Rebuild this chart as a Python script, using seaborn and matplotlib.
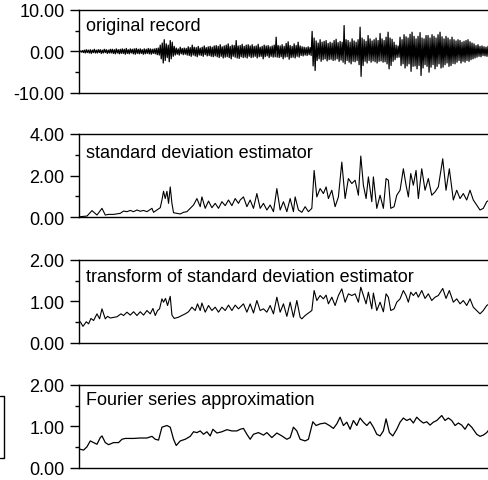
import numpy as np
import pandas as pd
import matplotlib
matplotlib.use("Agg")
import matplotlib.pyplot as plt
import matplotlib.transforms as mtransforms
from matplotlib.lines import Line2D
from matplotlib.ticker import MultipleLocator, FormatStrFormatter
import seaborn as sns

# ---------------- data ----------------
panel_labels = ["original record", "standard deviation estimator",
                "transform of standard deviation estimator",
                "Fourier series approximation"]

# original record: alternating positive peaks and negative troughs
rec_peaks = [0.1, 0.2, 0.3, 0.4, 0.3, 0.4, 0.3, 0.5, 0.3, 0.4, 0.4, 0.3, 0.5, 0.4, 0.3, 0.5,
             0.5, 0.4, 0.6, 0.4, 0.5, 0.6, 0.5, 0.7, 0.4, 0.6, 0.5, 0.6, 0.7, 0.5, 0.6, 0.4,
             0.6, 0.5, 0.7, 0.6, 0.5, 0.6, 0.7, 0.8,
             1.5, 2.0, 2.8, 1.8, 1.5, 2.6, 2.2, 1.2,
             0.8, 0.6, 1.0, 0.7, 0.8, 0.7,
             1.1, 0.9, 1.5, 1.0, 0.9, 1.2, 0.8, 1.0, 1.3, 0.9, 1.1, 1.2, 1.0, 1.3,
             1.4, 1.2, 1.6, 1.1, 1.3, 1.5, 1.8, 1.2, 1.5, 1.4, 2.6, 1.3, 1.4, 1.7, 1.2, 1.5,
             1.6, 1.3,
             1.6, 1.2, 1.3, 1.7, 1.0, 1.2, 1.5, 1.3, 1.4, 1.1, 1.3, 1.5,
             3.4,
             1.4, 1.3, 1.6, 1.2, 1.9, 2.3, 1.4, 1.2, 1.8, 1.4, 2.2, 1.3, 1.1, 1.0, 0.9, 1.1, 0.9,
             4.8, 3.2,
             2.5, 2.0, 2.8, 2.2, 2.4, 2.6, 1.9, 2.2, 2.0, 2.6, 2.9, 2.1, 2.4, 2.2,
             6.2,
             2.8, 2.6, 2.2, 3.0, 2.5, 2.2, 2.8,
             5.8,
             3.2, 2.8, 2.4, 3.8, 3.0, 2.5, 2.8, 3.2, 2.6, 4.3, 3.0,
             2.6, 3.4, 4.6, 3.2, 2.9, 2.2,
             1.5, 1.3,
             3.4, 2.8, 4.0, 3.5, 3.2, 4.1, 4.6, 3.6, 3.0, 3.6, 4.5, 3.2, 3.0, 3.8,
             3.8, 3.2, 4.0, 3.6, 3.2, 4.0, 4.6, 3.5, 3.0, 3.6, 3.2, 2.8, 3.4, 2.8,
             2.5, 2.8, 2.6, 2.2, 2.4, 2.6, 2.8, 2.3, 2.0, 1.8,
             1.4, 1.6, 1.2, 1.3, 1.1, 1.0, 1.2]
rec_troughs = [-0.2, -0.3, -0.4, -0.3, -0.4, -0.5, -0.3, -0.4, -0.4, -0.3, -0.5, -0.4, -0.3, -0.5,
               -0.4, -0.4,
               -0.5, -0.6, -0.4, -0.6, -0.5, -0.5, -0.7, -0.5, -0.6, -0.4, -0.6, -0.7, -0.5, -0.6,
               -0.5, -0.7, -0.6, -0.5, -0.6, -0.7, -0.5, -0.6, -0.8, -0.9,
               -1.8, -2.8, -2.2, -1.5, -2.5, -1.8, -1.2, -0.9,
               -0.7, -0.9, -0.6, -0.8, -0.7, -0.9,
               -1.0, -1.2, -0.9, -1.1, -1.3, -0.9, -1.0, -1.2, -0.8, -1.1, -1.0, -1.2, -1.3, -1.1,
               -1.3, -1.5, -1.2, -1.6, -1.4, -1.3, -1.5, -1.8, -1.2, -1.4, -1.6, -1.7, -1.3, -1.5,
               -1.4, -1.6, -1.2, -1.5,
               -1.4, -1.2, -1.6, -1.3, -1.2, -1.8, -1.3, -1.1, -1.5, -1.2, -1.4, -1.3,
               -1.4,
               -1.5, -1.3, -1.8, -1.4, -1.3, -1.9, -1.5, -1.4, -1.6, -1.2, -1.4, -1.0, -1.1, -0.9,
               -1.0, -0.8, -1.0,
               -3.5, -4.6,
               -2.2, -1.8, -2.4, -2.0, -1.8, -2.3, -2.0, -1.9, -2.2, -2.1, -1.8, -2.4, -2.1, -2.6,
               -3.0,
               -2.2, -2.6, -3.0, -2.4, -2.5, -2.2, -3.2,
               -6.0,
               -3.4, -2.4, -2.8, -2.2, -2.6, -2.3, -2.5, -2.8, -2.4, -2.3, -2.6,
               -2.5, -3.0, -4.2, -3.4, -2.4, -2.0,
               -1.5, -1.4,
               -3.4, -3.0, -4.0, -3.5, -3.0, -4.8, -3.6, -3.5, -4.2, -3.4, -5.8, -4.0, -3.2, -3.6,
               -5.0, -3.8, -3.2, -4.2, -3.6, -3.0, -4.0, -3.8, -3.2, -2.8, -3.6, -3.4, -2.9, -3.0,
               -2.6, -2.2, -2.8, -2.4, -2.6, -2.2, -2.4, -2.0, -1.8, -1.6,
               -1.4, -1.2, -1.3, -1.0, -1.1, -1.2, -1.0]
rec_dt = 0.2  # sampling interval between successive peaks (s)

std_t = [0.1, 0.77, 1.27, 1.77, 2.27, 2.6, 2.93, 3.43, 4.1, 4.43,
         4.77, 5.1, 5.43, 5.77, 6.1, 6.43, 6.77, 7.27, 7.43, 7.77,
         8.1, 8.27, 8.43, 8.6, 8.77, 8.93, 9.1, 9.27, 9.43, 9.77,
         10.1, 10.43, 10.77, 11.1, 11.43, 11.77, 12.1, 12.27, 12.6, 12.93,
         13.27, 13.6, 13.93, 14.27, 14.6, 14.93, 15.27, 15.6, 15.93,
         16.1, 16.43, 16.77, 17.1, 17.43, 17.77, 18.1, 18.43, 18.77, 19.1,
         19.43, 19.77, 20.1, 20.43, 20.77, 21.1, 21.43, 21.6, 21.93, 22.27,
         22.6, 22.93, 23.27, 23.5, 23.77, 24.1, 24.43, 24.7, 24.93, 25.27,
         25.6, 25.93, 26.27, 26.6, 26.93, 27.27, 27.6, 27.93, 28.17, 28.43,
         28.7, 28.93, 29.27, 29.43, 29.77, 30.1, 30.43, 30.7, 30.93, 31.17,
         31.5, 31.77, 32.1, 32.43, 32.7, 32.93, 33.17, 33.43, 33.7, 33.93,
         34.27, 34.6, 34.93, 35.27, 35.6, 35.93, 36.37, 36.7, 37.03, 37.43,
         37.77, 38.1, 38.43, 38.77, 39.1, 39.43, 39.77, 40.1, 40.43, 40.77,
         41.03]
std_v = [0.03, 0.06, 0.32, 0.11, 0.43, 0.11, 0.14, 0.14, 0.19, 0.30,
         0.27, 0.33, 0.27, 0.35, 0.29, 0.33, 0.27, 0.43, 0.24, 0.35,
         0.46, 0.83, 1.25, 0.9, 1.25, 0.67, 1.46, 0.67, 0.22, 0.19,
         0.16, 0.24, 0.27, 0.43, 0.59, 0.9, 0.51, 0.98, 0.43, 0.78,
         0.46, 0.67, 0.43, 0.75, 0.56, 0.83, 0.56, 0.9, 0.67,
         0.83, 0.98, 0.51, 0.83, 0.43, 1.14, 0.43, 0.67, 0.35, 0.59,
         0.27, 1.38, 0.35, 0.75, 0.27, 0.9, 0.27, 0.98, 0.35, 0.24,
         0.51, 0.27, 0.43, 2.25, 0.98, 1.38, 1.14, 1.46, 0.9, 1.3,
         0.51, 0.98, 2.65, 0.9, 1.86, 1.62, 1.78, 1.06, 2.94, 1.54,
         0.9, 1.94, 0.75, 1.94, 0.43, 1.06, 0.43, 1.86, 1.78, 0.43,
         0.51, 1.06, 1.3, 2.33, 1.54, 0.98, 2.1, 1.54, 2.25, 0.9,
         2.33, 1.3, 1.86, 1.06, 1.22, 1.46, 2.81, 1.3, 2.33, 0.83,
         1.3, 0.9, 1.14, 0.83, 1.3, 0.83, 0.59, 0.35, 0.43, 0.75,
         0.83]

tr_t = [0.1, 0.37, 0.7, 0.93, 1.17, 1.43, 1.77, 2.03, 2.27, 2.6,
        2.83, 3.1, 3.77, 4.17, 4.43, 4.77, 5.1, 5.43, 5.77, 6.1,
        6.43, 6.77, 7.1, 7.37, 7.6, 7.83, 8.03, 8.27, 8.43, 8.63,
        8.83, 9.1, 9.27, 9.5, 9.93, 10.27, 10.6, 10.93, 11.27, 11.6,
        11.83, 12.1, 12.27, 12.6, 12.93, 13.27, 13.6, 13.93, 14.27, 14.6,
        14.93, 15.27, 15.6, 15.93,
        16.1, 16.43, 16.77, 17.1, 17.43, 17.77, 18.1, 18.43, 18.77, 19.1,
        19.43, 19.77, 20.1, 20.43, 20.77, 21.1, 21.43, 21.77, 22.1, 22.27,
        22.6, 22.93, 23.27, 23.5, 23.77, 24.1, 24.43, 24.7, 24.93, 25.27,
        25.6, 25.93, 26.27, 26.6, 26.93, 27.27, 27.6, 27.93, 28.17, 28.43,
        28.7, 28.93, 29.27, 29.43, 29.77, 30.1, 30.43, 30.7, 30.93, 31.17,
        31.5, 31.77, 32.1, 32.43, 32.7, 32.93, 33.17, 33.43, 33.7, 33.93,
        34.27, 34.6, 34.93, 35.27, 35.6, 35.93, 36.37, 36.7, 37.03, 37.43,
        37.77, 38.1, 38.43, 38.77, 39.1, 39.43, 39.77, 40.1, 40.43, 40.77,
        41.03]
tr_v = [0.51, 0.4, 0.51, 0.46, 0.59, 0.54, 0.70, 0.58, 0.82, 0.58,
        0.64, 0.6, 0.63, 0.7, 0.66, 0.74, 0.67, 0.75, 0.66, 0.75,
        0.67, 0.78, 0.70, 0.83, 0.66, 0.78, 0.82, 1.06, 0.98, 1.07,
        0.9, 1.12, 0.67, 0.59, 0.62, 0.66, 0.7, 0.75, 0.86, 0.78,
        0.94, 0.78, 0.96, 0.74, 0.9, 0.78, 0.86, 0.74, 0.86, 0.78,
        0.91, 0.78, 0.91, 0.82,
        0.86, 0.94, 0.74, 0.94, 0.72, 1.02, 0.78, 0.82, 0.74, 0.9,
        0.7, 1.1, 0.74, 0.94, 0.64, 0.98, 0.62, 1.02, 0.62, 0.58,
        0.66, 0.72, 0.78, 1.26, 1.02, 1.14, 1.06, 1.15, 0.94, 1.1,
        0.9, 1.14, 1.3, 0.98, 1.18, 1.14, 1.18, 0.98, 1.34, 1.14,
        0.94, 1.22, 0.82, 1.2, 0.78, 0.98, 0.75, 1.18, 1.1, 0.78,
        0.82, 0.98, 1.06, 1.26, 1.14, 0.98, 1.22, 1.14, 1.22, 1.1,
        1.26, 1.07, 1.18, 1.02, 1.1, 1.14, 1.31, 1.07, 1.26, 0.98,
        1.06, 0.94, 1.02, 0.9, 1.06, 0.86, 0.78, 0.7, 0.78, 0.9,
        0.94]

fs_t = [0.1, 0.43, 0.77, 1.1, 1.43, 1.77, 2.1, 2.27, 2.6, 2.93,
        3.43, 3.93, 4.27, 4.6, 5.43, 6.1, 6.77, 7.27, 7.6, 7.93,
        8.27, 8.77, 9.1, 9.43, 9.7, 10.1, 10.6, 11.1, 11.43, 11.77,
        12.1, 12.43, 12.77, 13.1, 13.37, 13.77, 14.27, 14.77, 15.27, 15.77,
        16.1, 16.43, 16.77, 17.1, 17.43, 17.93, 18.43, 18.77, 19.27, 19.77,
        20.27, 20.77, 21.1, 21.43, 21.77, 22.1, 22.6, 22.93, 23.37, 23.7,
        24.1, 24.6, 25.03, 25.43, 25.77, 26.1, 26.43, 26.77, 27.1, 27.43,
        27.77, 28.1, 28.43, 28.77, 29.1, 29.43, 29.77, 30.1, 30.43, 30.7,
        31.03, 31.37, 31.77, 32.1, 32.43, 32.77, 33.1, 33.43, 33.77, 34.1,
        34.43, 34.77, 35.1, 35.43, 35.77, 36.27, 36.6, 36.93, 37.27, 37.6,
        37.93, 38.27, 38.6, 38.93, 39.27, 39.77, 40.1, 40.43, 40.77, 41.03]
fs_v = [0.45, 0.43, 0.51, 0.65, 0.61, 0.57, 0.73, 0.77, 0.61, 0.56,
        0.61, 0.61, 0.69, 0.71, 0.71, 0.72, 0.72, 0.76, 0.69, 0.67,
        0.98, 1.02, 0.98, 0.69, 0.54, 0.65, 0.69, 0.76, 0.87, 0.85,
        0.89, 0.81, 0.87, 0.77, 0.93, 0.84, 0.87, 0.92, 0.89, 0.89,
        0.93, 0.95, 0.81, 0.69, 0.81, 0.85, 0.79, 0.85, 0.73, 0.84,
        0.77, 0.69, 0.73, 0.98, 0.89, 0.69, 0.65, 0.69, 1.11, 1.02,
        1.06, 1.08, 1.02, 0.95, 1.06, 1.22, 1.02, 1.1, 0.93, 1.14,
        1.02, 1.2, 1.1, 1.02, 1.11, 0.98, 0.81, 0.77, 0.89, 1.18,
        0.85, 0.77, 0.93, 1.1, 1.2, 1.14, 1.18, 1.08, 1.22, 1.14,
        1.08, 1.11, 1.03, 1.1, 1.14, 1.26, 1.14, 1.2, 1.14, 1.02,
        1.08, 1.03, 0.93, 1.06, 0.98, 0.81, 0.76, 0.79, 0.85, 0.93]

y_limits = [(-10, 10), (0, 4), (0, 2), (0, 2)]
y_major = [10, 2, 1, 1]
t_max = 40.9

# ---------------- build tables ----------------
peak_t = 0.1 + rec_dt * np.arange(len(rec_peaks))
trough_t = peak_t[:len(rec_troughs)] + rec_dt / 2
rec_df = pd.DataFrame({"t": np.concatenate([peak_t, trough_t]),
                       "v": np.concatenate([rec_peaks, rec_troughs])}).sort_values("t")
frames = [rec_df,
          pd.DataFrame({"t": std_t, "v": std_v}),
          pd.DataFrame({"t": tr_t, "v": tr_v}),
          pd.DataFrame({"t": fs_t, "v": fs_v})]

# ---------------- figure ----------------
sns.set_style("ticks")
plt.rcParams["font.family"] = ["Liberation Sans", "DejaVu Sans"]

W, H = 488, 481
fig = plt.figure(figsize=(W / 100, H / 100), dpi=100)

tops_px = [10.7, 135.0, 260.7, 385.7]
h_px = 83.3
left_px = 79.3
label_dy = [7.0, 10.5, 8.0, 6.5]
line_w = [0.9, 0.8, 0.8, 0.9]

for i, df in enumerate(frames):
    ax = fig.add_axes([left_px / W, 1 - (tops_px[i] + h_px) / H,
                       (W - left_px) / W, h_px / H])
    sns.lineplot(data=df, x="t", y="v", ax=ax, color="black",
                 linewidth=line_w[i], estimator=None, sort=True)
    ax.set_xlim(0, t_max)
    ax.set_ylim(*y_limits[i])
    ax.set_xlabel("")
    ax.set_ylabel("")
    ax.set_xticks([])
    ax.yaxis.set_major_locator(MultipleLocator(y_major[i]))
    ax.yaxis.set_minor_locator(MultipleLocator(y_major[i] / 2))
    ax.yaxis.set_major_formatter(FormatStrFormatter("%.2f"))
    ax.tick_params(axis="y", which="major", length=6.5, width=1.0,
                   labelsize=13, pad=4, colors="black")
    ax.tick_params(axis="y", which="minor", length=3, width=1.0, colors="black")
    ax.spines["right"].set_visible(False)
    for s in ["left", "top", "bottom"]:
        ax.spines[s].set_linewidth(1.0)
        ax.spines[s].set_color("black")
    off = mtransforms.ScaledTranslation(7 / 100, -label_dy[i] / 100,
                                        fig.dpi_scale_trans)
    ax.text(0, 1, panel_labels[i], transform=ax.transAxes + off,
            ha="left", va="top", fontsize=13, color="black")

# small cut-off frame at the far left of the bottom panel
bx = 4 / W
y1 = 1 - 397 / H
y2 = 1 - 459 / H
fig.add_artist(Line2D([0, bx, bx, 0], [y1, y1, y2, y2],
                      transform=fig.transFigure, color="black", linewidth=1.0))

fig.savefig("out.png", dpi=100)
